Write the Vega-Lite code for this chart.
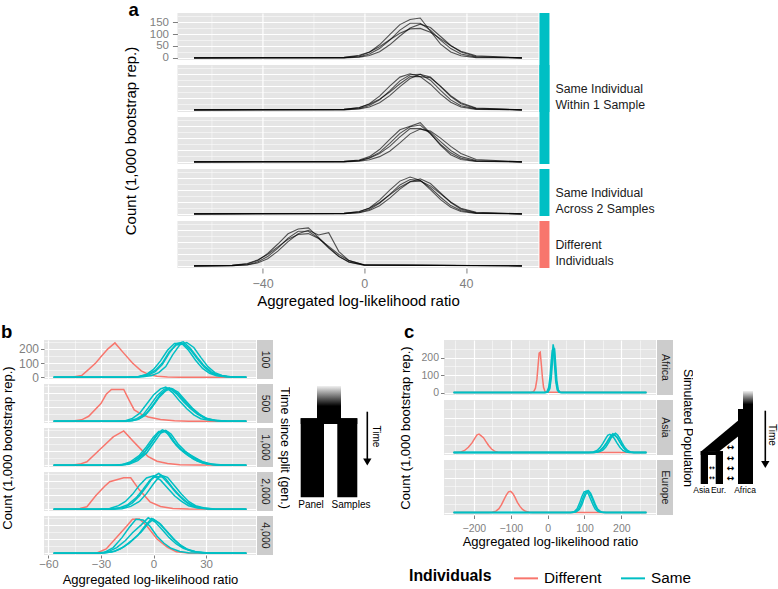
{
"padding": 0,
"background": "white",
"config": {
 "font": "Liberation Sans",
 "view": {"stroke": null, "fill": "#E5E5E5"},
 "axis": {"domain": false, "gridColor": "#FFFFFF", "labelColor": "#7F7F7F", "tickColor": "#7F7F7F", "tickSize": 4, "labelPadding": 2, "titleFontWeight": "normal", "titleColor": "#000000", "labelOverlap": false},
 "title": {"fontWeight": "bold", "fontSize": 18.5, "anchor": "start", "frame": "bounds", "color": "#000000"},
 "legend": {"layout": {"anchor": "middle", "bottom": {"anchor": "middle"}}}
},
"datasets": {
 "a1": [
  {"c":1,"x":-67,"y":0},{"c":1,"x":-8,"y":1},{"c":1,"x":-2,"y":5},{"c":1,"x":2,"y":16},{"c":1,"x":6,"y":39},{"c":1,"x":10,"y":75},{"c":1,"x":14,"y":117},{"c":1,"x":18,"y":146},{"c":1,"x":22,"y":146},{"c":1,"x":26,"y":117},{"c":1,"x":30,"y":75},{"c":1,"x":34,"y":39},{"c":1,"x":38,"y":16},{"c":1,"x":44,"y":3},{"c":1,"x":62,"y":0},
  {"c":2,"x":-67,"y":0},{"c":2,"x":-8,"y":1},{"c":2,"x":-2,"y":8},{"c":2,"x":2,"y":24},{"c":2,"x":6,"y":55},{"c":2,"x":10,"y":98},{"c":2,"x":14,"y":140},{"c":2,"x":18,"y":162},{"c":2,"x":22,"y":168},{"c":2,"x":26,"y":112},{"c":2,"x":30,"y":58},{"c":2,"x":34,"y":25},{"c":2,"x":38,"y":9},{"c":2,"x":44,"y":1},{"c":2,"x":62,"y":0},
  {"c":3,"x":-67,"y":0},{"c":3,"x":-8,"y":0},{"c":3,"x":-2,"y":3},{"c":3,"x":2,"y":10},{"c":3,"x":6,"y":26},{"c":3,"x":10,"y":55},{"c":3,"x":14,"y":92},{"c":3,"x":18,"y":126},{"c":3,"x":22,"y":142},{"c":3,"x":26,"y":128},{"c":3,"x":30,"y":90},{"c":3,"x":34,"y":52},{"c":3,"x":38,"y":25},{"c":3,"x":44,"y":6},{"c":3,"x":62,"y":0},
  {"c":4,"x":-67,"y":0},{"c":4,"x":-8,"y":2},{"c":4,"x":-2,"y":11},{"c":4,"x":2,"y":25},{"c":4,"x":6,"y":47},{"c":4,"x":10,"y":76},{"c":4,"x":14,"y":104},{"c":4,"x":18,"y":122},{"c":4,"x":22,"y":124},{"c":4,"x":26,"y":108},{"c":4,"x":30,"y":80},{"c":4,"x":34,"y":51},{"c":4,"x":38,"y":28},{"c":4,"x":44,"y":9},{"c":4,"x":62,"y":0}
 ],
 "a2": [
  {"c":1,"x":-67,"y":0},{"c":1,"x":-8,"y":1},{"c":1,"x":-2,"y":6},{"c":1,"x":2,"y":18},{"c":1,"x":6,"y":42},{"c":1,"x":10,"y":80},{"c":1,"x":14,"y":122},{"c":1,"x":18,"y":148},{"c":1,"x":22,"y":150},{"c":1,"x":26,"y":125},{"c":1,"x":30,"y":82},{"c":1,"x":34,"y":42},{"c":1,"x":38,"y":17},{"c":1,"x":44,"y":4},{"c":1,"x":62,"y":0},
  {"c":2,"x":-67,"y":0},{"c":2,"x":-8,"y":2},{"c":2,"x":-2,"y":9},{"c":2,"x":2,"y":26},{"c":2,"x":6,"y":58},{"c":2,"x":10,"y":100},{"c":2,"x":14,"y":138},{"c":2,"x":18,"y":152},{"c":2,"x":22,"y":140},{"c":2,"x":26,"y":108},{"c":2,"x":30,"y":66},{"c":2,"x":34,"y":32},{"c":2,"x":38,"y":12},{"c":2,"x":44,"y":2},{"c":2,"x":62,"y":0},
  {"c":3,"x":-67,"y":0},{"c":3,"x":-8,"y":0},{"c":3,"x":-2,"y":4},{"c":3,"x":2,"y":12},{"c":3,"x":6,"y":30},{"c":3,"x":10,"y":60},{"c":3,"x":14,"y":98},{"c":3,"x":18,"y":132},{"c":3,"x":22,"y":150},{"c":3,"x":26,"y":138},{"c":3,"x":30,"y":98},{"c":3,"x":34,"y":56},{"c":3,"x":38,"y":26},{"c":3,"x":44,"y":6},{"c":3,"x":62,"y":0},
  {"c":4,"x":-67,"y":0},{"c":4,"x":-8,"y":2},{"c":4,"x":-2,"y":10},{"c":4,"x":2,"y":24},{"c":4,"x":6,"y":45},{"c":4,"x":10,"y":75},{"c":4,"x":14,"y":110},{"c":4,"x":18,"y":140},{"c":4,"x":22,"y":140},{"c":4,"x":26,"y":135},{"c":4,"x":30,"y":100},{"c":4,"x":34,"y":60},{"c":4,"x":38,"y":30},{"c":4,"x":44,"y":8},{"c":4,"x":62,"y":0}
 ],
 "a3": [
  {"c":1,"x":-67,"y":0},{"c":1,"x":-8,"y":1},{"c":1,"x":-2,"y":5},{"c":1,"x":2,"y":17},{"c":1,"x":6,"y":40},{"c":1,"x":10,"y":78},{"c":1,"x":14,"y":120},{"c":1,"x":18,"y":148},{"c":1,"x":22,"y":155},{"c":1,"x":26,"y":118},{"c":1,"x":30,"y":74},{"c":1,"x":34,"y":38},{"c":1,"x":38,"y":15},{"c":1,"x":44,"y":3},{"c":1,"x":62,"y":0},
  {"c":2,"x":-67,"y":0},{"c":2,"x":-8,"y":2},{"c":2,"x":-2,"y":8},{"c":2,"x":2,"y":22},{"c":2,"x":6,"y":52},{"c":2,"x":10,"y":95},{"c":2,"x":14,"y":135},{"c":2,"x":18,"y":150},{"c":2,"x":22,"y":165},{"c":2,"x":26,"y":120},{"c":2,"x":30,"y":70},{"c":2,"x":34,"y":30},{"c":2,"x":38,"y":10},{"c":2,"x":44,"y":2},{"c":2,"x":62,"y":0},
  {"c":3,"x":-67,"y":0},{"c":3,"x":-8,"y":1},{"c":3,"x":-2,"y":6},{"c":3,"x":2,"y":15},{"c":3,"x":6,"y":35},{"c":3,"x":10,"y":65},{"c":3,"x":14,"y":105},{"c":3,"x":18,"y":140},{"c":3,"x":22,"y":140},{"c":3,"x":26,"y":125},{"c":3,"x":30,"y":85},{"c":3,"x":34,"y":48},{"c":3,"x":38,"y":22},{"c":3,"x":44,"y":6},{"c":3,"x":62,"y":0},
  {"c":4,"x":-67,"y":0},{"c":4,"x":-8,"y":0},{"c":4,"x":-2,"y":3},{"c":4,"x":2,"y":9},{"c":4,"x":6,"y":22},{"c":4,"x":10,"y":45},{"c":4,"x":14,"y":80},{"c":4,"x":18,"y":118},{"c":4,"x":22,"y":138},{"c":4,"x":26,"y":130},{"c":4,"x":30,"y":100},{"c":4,"x":34,"y":65},{"c":4,"x":38,"y":35},{"c":4,"x":44,"y":10},{"c":4,"x":62,"y":0}
 ],
 "a4": [
  {"c":1,"x":-67,"y":0},{"c":1,"x":-8,"y":1},{"c":1,"x":-2,"y":6},{"c":1,"x":2,"y":18},{"c":1,"x":6,"y":45},{"c":1,"x":10,"y":82},{"c":1,"x":14,"y":122},{"c":1,"x":18,"y":145},{"c":1,"x":22,"y":140},{"c":1,"x":26,"y":110},{"c":1,"x":30,"y":70},{"c":1,"x":34,"y":35},{"c":1,"x":38,"y":14},{"c":1,"x":44,"y":3},{"c":1,"x":62,"y":0},
  {"c":2,"x":-67,"y":0},{"c":2,"x":-8,"y":2},{"c":2,"x":-2,"y":9},{"c":2,"x":2,"y":25},{"c":2,"x":6,"y":58},{"c":2,"x":10,"y":100},{"c":2,"x":14,"y":138},{"c":2,"x":18,"y":155},{"c":2,"x":22,"y":142},{"c":2,"x":26,"y":102},{"c":2,"x":30,"y":60},{"c":2,"x":34,"y":28},{"c":2,"x":38,"y":10},{"c":2,"x":44,"y":2},{"c":2,"x":62,"y":0},
  {"c":3,"x":-67,"y":0},{"c":3,"x":-8,"y":1},{"c":3,"x":-2,"y":5},{"c":3,"x":2,"y":14},{"c":3,"x":6,"y":34},{"c":3,"x":10,"y":66},{"c":3,"x":14,"y":104},{"c":3,"x":18,"y":135},{"c":3,"x":22,"y":148},{"c":3,"x":26,"y":128},{"c":3,"x":30,"y":88},{"c":3,"x":34,"y":48},{"c":3,"x":38,"y":20},{"c":3,"x":44,"y":5},{"c":3,"x":62,"y":0},
  {"c":4,"x":-67,"y":0},{"c":4,"x":-8,"y":2},{"c":4,"x":-2,"y":10},{"c":4,"x":2,"y":24},{"c":4,"x":6,"y":48},{"c":4,"x":10,"y":80},{"c":4,"x":14,"y":112},{"c":4,"x":18,"y":135},{"c":4,"x":22,"y":138},{"c":4,"x":26,"y":118},{"c":4,"x":30,"y":84},{"c":4,"x":34,"y":50},{"c":4,"x":38,"y":24},{"c":4,"x":44,"y":7},{"c":4,"x":62,"y":0}
 ],
 "a5": [
  {"c":1,"x":-67,"y":0},{"c":1,"x":-52,"y":1},{"c":1,"x":-46,"y":5},{"c":1,"x":-42,"y":16},{"c":1,"x":-38,"y":39},{"c":1,"x":-34,"y":75},{"c":1,"x":-30,"y":117},{"c":1,"x":-26,"y":146},{"c":1,"x":-22,"y":146},{"c":1,"x":-18,"y":117},{"c":1,"x":-14,"y":75},{"c":1,"x":-10,"y":39},{"c":1,"x":-6,"y":16},{"c":1,"x":0,"y":3},{"c":1,"x":62,"y":0},
  {"c":2,"x":-67,"y":0},{"c":2,"x":-52,"y":2},{"c":2,"x":-46,"y":8},{"c":2,"x":-42,"y":22},{"c":2,"x":-38,"y":52},{"c":2,"x":-34,"y":92},{"c":2,"x":-30,"y":135},{"c":2,"x":-26,"y":155},{"c":2,"x":-22,"y":160},{"c":2,"x":-18,"y":120},{"c":2,"x":-14,"y":78},{"c":2,"x":-10,"y":40},{"c":2,"x":-6,"y":15},{"c":2,"x":0,"y":3},{"c":2,"x":62,"y":0},
  {"c":3,"x":-67,"y":0},{"c":3,"x":-52,"y":1},{"c":3,"x":-46,"y":4},{"c":3,"x":-42,"y":12},{"c":3,"x":-38,"y":30},{"c":3,"x":-34,"y":62},{"c":3,"x":-30,"y":102},{"c":3,"x":-26,"y":135},{"c":3,"x":-22,"y":150},{"c":3,"x":-18,"y":130},{"c":3,"x":-14,"y":140},{"c":3,"x":-10,"y":60},{"c":3,"x":-6,"y":22},{"c":3,"x":0,"y":4},{"c":3,"x":62,"y":0},
  {"c":4,"x":-67,"y":0},{"c":4,"x":-52,"y":2},{"c":4,"x":-46,"y":10},{"c":4,"x":-42,"y":25},{"c":4,"x":-38,"y":48},{"c":4,"x":-34,"y":80},{"c":4,"x":-30,"y":112},{"c":4,"x":-26,"y":132},{"c":4,"x":-22,"y":136},{"c":4,"x":-18,"y":115},{"c":4,"x":-14,"y":82},{"c":4,"x":-10,"y":48},{"c":4,"x":-6,"y":22},{"c":4,"x":0,"y":5},{"c":4,"x":62,"y":0}
 ],
 "b1": [
  {"g":"Different","c":0,"x":-57,"y":0},{"g":"Different","c":0,"x":-46,"y":2},{"g":"Different","c":0,"x":-41,"y":12},{"g":"Different","c":0,"x":-37,"y":55},{"g":"Different","c":0,"x":-33,"y":100},{"g":"Different","c":0,"x":-30,"y":145},{"g":"Different","c":0,"x":-26,"y":200},{"g":"Different","c":0,"x":-22,"y":242},{"g":"Different","c":0,"x":-17,"y":170},{"g":"Different","c":0,"x":-12,"y":100},{"g":"Different","c":0,"x":-7,"y":45},{"g":"Different","c":0,"x":-3,"y":20},{"g":"Different","c":0,"x":2,"y":7},{"g":"Different","c":0,"x":8,"y":2},{"g":"Different","c":0,"x":15,"y":0},{"g":"Different","c":0,"x":53,"y":0},
  {"g":"Same","c":1,"x":-57,"y":0},{"g":"Same","c":1,"x":-15,"y":0},{"g":"Same","c":1,"x":-8,"y":3},{"g":"Same","c":1,"x":-3,"y":15},{"g":"Same","c":1,"x":1,"y":40},{"g":"Same","c":1,"x":5,"y":90},{"g":"Same","c":1,"x":9,"y":170},{"g":"Same","c":1,"x":13,"y":235},{"g":"Same","c":1,"x":17,"y":250},{"g":"Same","c":1,"x":21,"y":205},{"g":"Same","c":1,"x":25,"y":140},{"g":"Same","c":1,"x":29,"y":80},{"g":"Same","c":1,"x":33,"y":38},{"g":"Same","c":1,"x":37,"y":15},{"g":"Same","c":1,"x":42,"y":5},{"g":"Same","c":1,"x":47,"y":1},{"g":"Same","c":1,"x":53,"y":0},
  {"g":"Same","c":2,"x":-57,"y":0},{"g":"Same","c":2,"x":-12,"y":0},{"g":"Same","c":2,"x":-6,"y":3},{"g":"Same","c":2,"x":-1,"y":12},{"g":"Same","c":2,"x":3,"y":32},{"g":"Same","c":2,"x":7,"y":75},{"g":"Same","c":2,"x":11,"y":160},{"g":"Same","c":2,"x":15,"y":228},{"g":"Same","c":2,"x":19,"y":245},{"g":"Same","c":2,"x":23,"y":210},{"g":"Same","c":2,"x":27,"y":140},{"g":"Same","c":2,"x":31,"y":75},{"g":"Same","c":2,"x":35,"y":32},{"g":"Same","c":2,"x":39,"y":12},{"g":"Same","c":2,"x":44,"y":3},{"g":"Same","c":2,"x":53,"y":0},
  {"g":"Same","c":3,"x":-57,"y":0},{"g":"Same","c":3,"x":-15,"y":0},{"g":"Same","c":3,"x":-9,"y":4},{"g":"Same","c":3,"x":-4,"y":20},{"g":"Same","c":3,"x":0,"y":55},{"g":"Same","c":3,"x":4,"y":115},{"g":"Same","c":3,"x":8,"y":190},{"g":"Same","c":3,"x":12,"y":238},{"g":"Same","c":3,"x":16,"y":240},{"g":"Same","c":3,"x":20,"y":190},{"g":"Same","c":3,"x":24,"y":120},{"g":"Same","c":3,"x":28,"y":62},{"g":"Same","c":3,"x":32,"y":28},{"g":"Same","c":3,"x":36,"y":10},{"g":"Same","c":3,"x":41,"y":3},{"g":"Same","c":3,"x":53,"y":0},
  {"g":"Same","c":4,"x":-57,"y":0},{"g":"Same","c":4,"x":-14,"y":1},{"g":"Same","c":4,"x":-8,"y":5},{"g":"Same","c":4,"x":-3,"y":22},{"g":"Same","c":4,"x":1,"y":48},{"g":"Same","c":4,"x":5,"y":100},{"g":"Same","c":4,"x":9,"y":180},{"g":"Same","c":4,"x":13,"y":228},{"g":"Same","c":4,"x":17,"y":235},{"g":"Same","c":4,"x":21,"y":195},{"g":"Same","c":4,"x":25,"y":130},{"g":"Same","c":4,"x":29,"y":70},{"g":"Same","c":4,"x":33,"y":30},{"g":"Same","c":4,"x":37,"y":12},{"g":"Same","c":4,"x":42,"y":3},{"g":"Same","c":4,"x":53,"y":0}
 ],
 "b2": [
  {"g":"Different","c":0,"x":-57,"y":0},{"g":"Different","c":0,"x":-46,"y":2},{"g":"Different","c":0,"x":-41,"y":10},{"g":"Different","c":0,"x":-37,"y":35},{"g":"Different","c":0,"x":-30,"y":125},{"g":"Different","c":0,"x":-27,"y":190},{"g":"Different","c":0,"x":-24,"y":224},{"g":"Different","c":0,"x":-17,"y":224},{"g":"Different","c":0,"x":-14,"y":150},{"g":"Different","c":0,"x":-11,"y":80},{"g":"Different","c":0,"x":-7,"y":50},{"g":"Different","c":0,"x":-3,"y":30},{"g":"Different","c":0,"x":4,"y":12},{"g":"Different","c":0,"x":12,"y":3},{"g":"Different","c":0,"x":20,"y":0},{"g":"Different","c":0,"x":53,"y":0},
  {"g":"Same","c":1,"x":-57,"y":0},{"g":"Same","c":1,"x":-20,"y":0},{"g":"Same","c":1,"x":-14,"y":3},{"g":"Same","c":1,"x":-10,"y":15},{"g":"Same","c":1,"x":-6,"y":45},{"g":"Same","c":1,"x":-2,"y":110},{"g":"Same","c":1,"x":2,"y":180},{"g":"Same","c":1,"x":6,"y":225},{"g":"Same","c":1,"x":9,"y":235},{"g":"Same","c":1,"x":13,"y":195},{"g":"Same","c":1,"x":17,"y":140},{"g":"Same","c":1,"x":21,"y":90},{"g":"Same","c":1,"x":25,"y":50},{"g":"Same","c":1,"x":29,"y":22},{"g":"Same","c":1,"x":34,"y":7},{"g":"Same","c":1,"x":40,"y":2},{"g":"Same","c":1,"x":53,"y":0},
  {"g":"Same","c":2,"x":-57,"y":0},{"g":"Same","c":2,"x":-18,"y":0},{"g":"Same","c":2,"x":-12,"y":4},{"g":"Same","c":2,"x":-8,"y":18},{"g":"Same","c":2,"x":-4,"y":55},{"g":"Same","c":2,"x":0,"y":120},{"g":"Same","c":2,"x":4,"y":190},{"g":"Same","c":2,"x":8,"y":232},{"g":"Same","c":2,"x":11,"y":228},{"g":"Same","c":2,"x":15,"y":180},{"g":"Same","c":2,"x":19,"y":125},{"g":"Same","c":2,"x":23,"y":78},{"g":"Same","c":2,"x":27,"y":40},{"g":"Same","c":2,"x":31,"y":16},{"g":"Same","c":2,"x":36,"y":5},{"g":"Same","c":2,"x":42,"y":1},{"g":"Same","c":2,"x":53,"y":0},
  {"g":"Same","c":3,"x":-57,"y":0},{"g":"Same","c":3,"x":-22,"y":0},{"g":"Same","c":3,"x":-16,"y":4},{"g":"Same","c":3,"x":-12,"y":20},{"g":"Same","c":3,"x":-8,"y":55},{"g":"Same","c":3,"x":-4,"y":120},{"g":"Same","c":3,"x":0,"y":185},{"g":"Same","c":3,"x":4,"y":228},{"g":"Same","c":3,"x":7,"y":240},{"g":"Same","c":3,"x":11,"y":200},{"g":"Same","c":3,"x":15,"y":140},{"g":"Same","c":3,"x":19,"y":88},{"g":"Same","c":3,"x":23,"y":45},{"g":"Same","c":3,"x":27,"y":18},{"g":"Same","c":3,"x":32,"y":6},{"g":"Same","c":3,"x":38,"y":1},{"g":"Same","c":3,"x":53,"y":0},
  {"g":"Same","c":4,"x":-57,"y":0},{"g":"Same","c":4,"x":-19,"y":0},{"g":"Same","c":4,"x":-13,"y":3},{"g":"Same","c":4,"x":-9,"y":12},{"g":"Same","c":4,"x":-5,"y":40},{"g":"Same","c":4,"x":-1,"y":95},{"g":"Same","c":4,"x":3,"y":165},{"g":"Same","c":4,"x":7,"y":215},{"g":"Same","c":4,"x":10,"y":232},{"g":"Same","c":4,"x":14,"y":205},{"g":"Same","c":4,"x":18,"y":150},{"g":"Same","c":4,"x":22,"y":95},{"g":"Same","c":4,"x":26,"y":52},{"g":"Same","c":4,"x":30,"y":22},{"g":"Same","c":4,"x":35,"y":7},{"g":"Same","c":4,"x":41,"y":1},{"g":"Same","c":4,"x":53,"y":0}
 ],
 "b3": [
  {"g":"Different","c":0,"x":-57,"y":0},{"g":"Different","c":0,"x":-46,"y":2},{"g":"Different","c":0,"x":-42,"y":8},{"g":"Different","c":0,"x":-38,"y":24},{"g":"Different","c":0,"x":-30,"y":118},{"g":"Different","c":0,"x":-23,"y":200},{"g":"Different","c":0,"x":-17,"y":242},{"g":"Different","c":0,"x":-12,"y":175},{"g":"Different","c":0,"x":-7,"y":110},{"g":"Different","c":0,"x":-3,"y":60},{"g":"Different","c":0,"x":2,"y":28},{"g":"Different","c":0,"x":8,"y":12},{"g":"Different","c":0,"x":15,"y":4},{"g":"Different","c":0,"x":25,"y":1},{"g":"Different","c":0,"x":53,"y":0},
  {"g":"Same","c":1,"x":-57,"y":0},{"g":"Same","c":1,"x":-22,"y":0},{"g":"Same","c":1,"x":-16,"y":5},{"g":"Same","c":1,"x":-11,"y":30},{"g":"Same","c":1,"x":-6,"y":75},{"g":"Same","c":1,"x":-2,"y":140},{"g":"Same","c":1,"x":2,"y":215},{"g":"Same","c":1,"x":5,"y":250},{"g":"Same","c":1,"x":8,"y":235},{"g":"Same","c":1,"x":12,"y":160},{"g":"Same","c":1,"x":16,"y":110},{"g":"Same","c":1,"x":20,"y":80},{"g":"Same","c":1,"x":24,"y":52},{"g":"Same","c":1,"x":28,"y":25},{"g":"Same","c":1,"x":33,"y":8},{"g":"Same","c":1,"x":40,"y":1},{"g":"Same","c":1,"x":53,"y":0},
  {"g":"Same","c":2,"x":-57,"y":0},{"g":"Same","c":2,"x":-20,"y":0},{"g":"Same","c":2,"x":-14,"y":6},{"g":"Same","c":2,"x":-9,"y":32},{"g":"Same","c":2,"x":-4,"y":85},{"g":"Same","c":2,"x":0,"y":155},{"g":"Same","c":2,"x":4,"y":225},{"g":"Same","c":2,"x":7,"y":245},{"g":"Same","c":2,"x":10,"y":220},{"g":"Same","c":2,"x":14,"y":150},{"g":"Same","c":2,"x":18,"y":100},{"g":"Same","c":2,"x":22,"y":62},{"g":"Same","c":2,"x":26,"y":32},{"g":"Same","c":2,"x":31,"y":10},{"g":"Same","c":2,"x":37,"y":2},{"g":"Same","c":2,"x":53,"y":0},
  {"g":"Same","c":3,"x":-57,"y":0},{"g":"Same","c":3,"x":-24,"y":0},{"g":"Same","c":3,"x":-18,"y":4},{"g":"Same","c":3,"x":-13,"y":25},{"g":"Same","c":3,"x":-8,"y":70},{"g":"Same","c":3,"x":-4,"y":130},{"g":"Same","c":3,"x":0,"y":200},{"g":"Same","c":3,"x":3,"y":238},{"g":"Same","c":3,"x":7,"y":240},{"g":"Same","c":3,"x":11,"y":170},{"g":"Same","c":3,"x":15,"y":115},{"g":"Same","c":3,"x":19,"y":75},{"g":"Same","c":3,"x":23,"y":42},{"g":"Same","c":3,"x":28,"y":15},{"g":"Same","c":3,"x":34,"y":3},{"g":"Same","c":3,"x":53,"y":0},
  {"g":"Same","c":4,"x":-57,"y":0},{"g":"Same","c":4,"x":-21,"y":1},{"g":"Same","c":4,"x":-15,"y":8},{"g":"Same","c":4,"x":-10,"y":38},{"g":"Same","c":4,"x":-5,"y":95},{"g":"Same","c":4,"x":-1,"y":165},{"g":"Same","c":4,"x":3,"y":230},{"g":"Same","c":4,"x":6,"y":240},{"g":"Same","c":4,"x":9,"y":215},{"g":"Same","c":4,"x":13,"y":140},{"g":"Same","c":4,"x":17,"y":95},{"g":"Same","c":4,"x":21,"y":60},{"g":"Same","c":4,"x":25,"y":30},{"g":"Same","c":4,"x":30,"y":10},{"g":"Same","c":4,"x":36,"y":2},{"g":"Same","c":4,"x":53,"y":0}
 ],
 "b4": [
  {"g":"Different","c":0,"x":-57,"y":0},{"g":"Different","c":0,"x":-47,"y":2},{"g":"Different","c":0,"x":-42,"y":6},{"g":"Different","c":0,"x":-38,"y":17},{"g":"Different","c":0,"x":-33,"y":95},{"g":"Different","c":0,"x":-28,"y":160},{"g":"Different","c":0,"x":-25,"y":194},{"g":"Different","c":0,"x":-17,"y":222},{"g":"Different","c":0,"x":-13,"y":222},{"g":"Different","c":0,"x":-8,"y":135},{"g":"Different","c":0,"x":-2,"y":52},{"g":"Different","c":0,"x":4,"y":19},{"g":"Different","c":0,"x":11,"y":5},{"g":"Different","c":0,"x":20,"y":1},{"g":"Different","c":0,"x":53,"y":0},
  {"g":"Same","c":1,"x":-57,"y":0},{"g":"Same","c":1,"x":-28,"y":0},{"g":"Same","c":1,"x":-22,"y":3},{"g":"Same","c":1,"x":-16,"y":15},{"g":"Same","c":1,"x":-12,"y":45},{"g":"Same","c":1,"x":-8,"y":95},{"g":"Same","c":1,"x":-4,"y":160},{"g":"Same","c":1,"x":0,"y":230},{"g":"Same","c":1,"x":3,"y":252},{"g":"Same","c":1,"x":7,"y":215},{"g":"Same","c":1,"x":11,"y":150},{"g":"Same","c":1,"x":15,"y":95},{"g":"Same","c":1,"x":19,"y":50},{"g":"Same","c":1,"x":23,"y":22},{"g":"Same","c":1,"x":28,"y":8},{"g":"Same","c":1,"x":34,"y":2},{"g":"Same","c":1,"x":53,"y":0},
  {"g":"Same","c":2,"x":-57,"y":0},{"g":"Same","c":2,"x":-30,"y":1},{"g":"Same","c":2,"x":-25,"y":5},{"g":"Same","c":2,"x":-20,"y":25},{"g":"Same","c":2,"x":-16,"y":55},{"g":"Same","c":2,"x":-12,"y":105},{"g":"Same","c":2,"x":-8,"y":170},{"g":"Same","c":2,"x":-4,"y":220},{"g":"Same","c":2,"x":0,"y":235},{"g":"Same","c":2,"x":4,"y":205},{"g":"Same","c":2,"x":8,"y":150},{"g":"Same","c":2,"x":12,"y":95},{"g":"Same","c":2,"x":16,"y":55},{"g":"Same","c":2,"x":20,"y":25},{"g":"Same","c":2,"x":25,"y":8},{"g":"Same","c":2,"x":32,"y":2},{"g":"Same","c":2,"x":53,"y":0},
  {"g":"Same","c":3,"x":-57,"y":0},{"g":"Same","c":3,"x":-24,"y":0},{"g":"Same","c":3,"x":-18,"y":4},{"g":"Same","c":3,"x":-13,"y":20},{"g":"Same","c":3,"x":-8,"y":55},{"g":"Same","c":3,"x":-4,"y":110},{"g":"Same","c":3,"x":0,"y":180},{"g":"Same","c":3,"x":4,"y":240},{"g":"Same","c":3,"x":8,"y":225},{"g":"Same","c":3,"x":12,"y":165},{"g":"Same","c":3,"x":16,"y":105},{"g":"Same","c":3,"x":20,"y":55},{"g":"Same","c":3,"x":24,"y":25},{"g":"Same","c":3,"x":29,"y":8},{"g":"Same","c":3,"x":35,"y":2},{"g":"Same","c":3,"x":53,"y":0},
  {"g":"Same","c":4,"x":-57,"y":0},{"g":"Same","c":4,"x":-26,"y":1},{"g":"Same","c":4,"x":-20,"y":8},{"g":"Same","c":4,"x":-15,"y":30},{"g":"Same","c":4,"x":-10,"y":80},{"g":"Same","c":4,"x":-6,"y":140},{"g":"Same","c":4,"x":-2,"y":205},{"g":"Same","c":4,"x":1,"y":230},{"g":"Same","c":4,"x":5,"y":228},{"g":"Same","c":4,"x":9,"y":175},{"g":"Same","c":4,"x":13,"y":115},{"g":"Same","c":4,"x":17,"y":65},{"g":"Same","c":4,"x":21,"y":30},{"g":"Same","c":4,"x":26,"y":10},{"g":"Same","c":4,"x":32,"y":2},{"g":"Same","c":4,"x":53,"y":0}
 ],
 "b5": [
  {"g":"Different","c":0,"x":-57,"y":0},{"g":"Different","c":0,"x":-40,"y":0},{"g":"Different","c":0,"x":-32,"y":4},{"g":"Different","c":0,"x":-27,"y":30},{"g":"Different","c":0,"x":-21,"y":113},{"g":"Different","c":0,"x":-15,"y":195},{"g":"Different","c":0,"x":-12,"y":240},{"g":"Different","c":0,"x":-8,"y":242},{"g":"Different","c":0,"x":-4,"y":195},{"g":"Different","c":0,"x":2,"y":100},{"g":"Different","c":0,"x":8,"y":42},{"g":"Different","c":0,"x":13,"y":10},{"g":"Different","c":0,"x":20,"y":2},{"g":"Different","c":0,"x":53,"y":0},
  {"g":"Same","c":1,"x":-57,"y":0},{"g":"Same","c":1,"x":-34,"y":0},{"g":"Same","c":1,"x":-28,"y":6},{"g":"Same","c":1,"x":-23,"y":40},{"g":"Same","c":1,"x":-18,"y":110},{"g":"Same","c":1,"x":-14,"y":180},{"g":"Same","c":1,"x":-10,"y":240},{"g":"Same","c":1,"x":-6,"y":235},{"g":"Same","c":1,"x":-2,"y":190},{"g":"Same","c":1,"x":2,"y":120},{"g":"Same","c":1,"x":6,"y":70},{"g":"Same","c":1,"x":10,"y":35},{"g":"Same","c":1,"x":15,"y":12},{"g":"Same","c":1,"x":20,"y":3},{"g":"Same","c":1,"x":53,"y":0},
  {"g":"Same","c":2,"x":-57,"y":0},{"g":"Same","c":2,"x":-32,"y":1},{"g":"Same","c":2,"x":-26,"y":10},{"g":"Same","c":2,"x":-21,"y":40},{"g":"Same","c":2,"x":-16,"y":90},{"g":"Same","c":2,"x":-12,"y":145},{"g":"Same","c":2,"x":-7,"y":200},{"g":"Same","c":2,"x":-3,"y":250},{"g":"Same","c":2,"x":1,"y":220},{"g":"Same","c":2,"x":5,"y":165},{"g":"Same","c":2,"x":9,"y":110},{"g":"Same","c":2,"x":13,"y":65},{"g":"Same","c":2,"x":17,"y":35},{"g":"Same","c":2,"x":22,"y":14},{"g":"Same","c":2,"x":28,"y":4},{"g":"Same","c":2,"x":35,"y":1},{"g":"Same","c":2,"x":53,"y":0},
  {"g":"Same","c":3,"x":-57,"y":0},{"g":"Same","c":3,"x":-30,"y":1},{"g":"Same","c":3,"x":-24,"y":8},{"g":"Same","c":3,"x":-19,"y":30},{"g":"Same","c":3,"x":-14,"y":70},{"g":"Same","c":3,"x":-9,"y":125},{"g":"Same","c":3,"x":-5,"y":190},{"g":"Same","c":3,"x":-1,"y":245},{"g":"Same","c":3,"x":3,"y":215},{"g":"Same","c":3,"x":7,"y":160},{"g":"Same","c":3,"x":11,"y":105},{"g":"Same","c":3,"x":15,"y":60},{"g":"Same","c":3,"x":19,"y":30},{"g":"Same","c":3,"x":24,"y":10},{"g":"Same","c":3,"x":30,"y":3},{"g":"Same","c":3,"x":53,"y":0},
  {"g":"Same","c":4,"x":-57,"y":0},{"g":"Same","c":4,"x":-28,"y":2},{"g":"Same","c":4,"x":-22,"y":14},{"g":"Same","c":4,"x":-17,"y":45},{"g":"Same","c":4,"x":-12,"y":95},{"g":"Same","c":4,"x":-7,"y":150},{"g":"Same","c":4,"x":-3,"y":210},{"g":"Same","c":4,"x":0,"y":240},{"g":"Same","c":4,"x":4,"y":205},{"g":"Same","c":4,"x":8,"y":150},{"g":"Same","c":4,"x":12,"y":95},{"g":"Same","c":4,"x":16,"y":50},{"g":"Same","c":4,"x":20,"y":22},{"g":"Same","c":4,"x":25,"y":7},{"g":"Same","c":4,"x":31,"y":2},{"g":"Same","c":4,"x":53,"y":0}
 ],
 "africa": [
  {"g":"Different","c":0,"x":-255,"y":0},{"g":"Different","c":0,"x":-45,"y":0},{"g":"Different","c":0,"x":-38,"y":4},{"g":"Different","c":0,"x":-33,"y":25},{"g":"Different","c":0,"x":-29,"y":75},{"g":"Different","c":0,"x":-26,"y":150},{"g":"Different","c":0,"x":-23,"y":225},{"g":"Different","c":0,"x":-20,"y":230},{"g":"Different","c":0,"x":-17,"y":160},{"g":"Different","c":0,"x":-14,"y":85},{"g":"Different","c":0,"x":-11,"y":30},{"g":"Different","c":0,"x":-7,"y":6},{"g":"Different","c":0,"x":-2,"y":1},{"g":"Different","c":0,"x":268,"y":0},
  {"g":"Same","c":1,"x":-255,"y":0},{"g":"Same","c":1,"x":-6,"y":0},{"g":"Same","c":1,"x":0,"y":3},{"g":"Same","c":1,"x":5,"y":25},{"g":"Same","c":1,"x":9,"y":90},{"g":"Same","c":1,"x":12,"y":190},{"g":"Same","c":1,"x":15,"y":275},{"g":"Same","c":1,"x":18,"y":240},{"g":"Same","c":1,"x":21,"y":140},{"g":"Same","c":1,"x":24,"y":55},{"g":"Same","c":1,"x":28,"y":12},{"g":"Same","c":1,"x":33,"y":2},{"g":"Same","c":1,"x":38,"y":0},{"g":"Same","c":1,"x":268,"y":0},
  {"g":"Same","c":2,"x":-255,"y":0},{"g":"Same","c":2,"x":-8,"y":0},{"g":"Same","c":2,"x":-2,"y":4},{"g":"Same","c":2,"x":3,"y":30},{"g":"Same","c":2,"x":7,"y":100},{"g":"Same","c":2,"x":10,"y":185},{"g":"Same","c":2,"x":13,"y":245},{"g":"Same","c":2,"x":16,"y":230},{"g":"Same","c":2,"x":19,"y":150},{"g":"Same","c":2,"x":22,"y":65},{"g":"Same","c":2,"x":26,"y":15},{"g":"Same","c":2,"x":31,"y":2},{"g":"Same","c":2,"x":36,"y":0},{"g":"Same","c":2,"x":268,"y":0},
  {"g":"Same","c":3,"x":-255,"y":0},{"g":"Same","c":3,"x":-5,"y":0},{"g":"Same","c":3,"x":1,"y":3},{"g":"Same","c":3,"x":6,"y":22},{"g":"Same","c":3,"x":10,"y":85},{"g":"Same","c":3,"x":13,"y":175},{"g":"Same","c":3,"x":16,"y":255},{"g":"Same","c":3,"x":19,"y":250},{"g":"Same","c":3,"x":22,"y":160},{"g":"Same","c":3,"x":25,"y":70},{"g":"Same","c":3,"x":29,"y":15},{"g":"Same","c":3,"x":34,"y":2},{"g":"Same","c":3,"x":39,"y":0},{"g":"Same","c":3,"x":268,"y":0}
 ],
 "asia": [
  {"g":"Different","c":0,"x":-255,"y":0},{"g":"Different","c":0,"x":-245,"y":0},{"g":"Different","c":0,"x":-235,"y":3},{"g":"Different","c":0,"x":-225,"y":12},{"g":"Different","c":0,"x":-215,"y":30},{"g":"Different","c":0,"x":-205,"y":55},{"g":"Different","c":0,"x":-198,"y":80},{"g":"Different","c":0,"x":-192,"y":100},{"g":"Different","c":0,"x":-186,"y":105},{"g":"Different","c":0,"x":-180,"y":95},{"g":"Different","c":0,"x":-174,"y":85},{"g":"Different","c":0,"x":-168,"y":65},{"g":"Different","c":0,"x":-160,"y":40},{"g":"Different","c":0,"x":-152,"y":20},{"g":"Different","c":0,"x":-144,"y":8},{"g":"Different","c":0,"x":-135,"y":2},{"g":"Different","c":0,"x":-125,"y":0},{"g":"Different","c":0,"x":268,"y":0},
  {"g":"Same","c":1,"x":-255,"y":0},{"g":"Same","c":1,"x":120,"y":0},{"g":"Same","c":1,"x":132,"y":3},{"g":"Same","c":1,"x":142,"y":12},{"g":"Same","c":1,"x":150,"y":28},{"g":"Same","c":1,"x":158,"y":50},{"g":"Same","c":1,"x":165,"y":75},{"g":"Same","c":1,"x":171,"y":95},{"g":"Same","c":1,"x":177,"y":108},{"g":"Same","c":1,"x":183,"y":100},{"g":"Same","c":1,"x":189,"y":85},{"g":"Same","c":1,"x":195,"y":62},{"g":"Same","c":1,"x":202,"y":38},{"g":"Same","c":1,"x":210,"y":18},{"g":"Same","c":1,"x":218,"y":6},{"g":"Same","c":1,"x":226,"y":1},{"g":"Same","c":1,"x":235,"y":0},{"g":"Same","c":1,"x":268,"y":0},
  {"g":"Same","c":2,"x":-255,"y":0},{"g":"Same","c":2,"x":112,"y":0},{"g":"Same","c":2,"x":124,"y":3},{"g":"Same","c":2,"x":134,"y":12},{"g":"Same","c":2,"x":142,"y":28},{"g":"Same","c":2,"x":150,"y":52},{"g":"Same","c":2,"x":157,"y":78},{"g":"Same","c":2,"x":163,"y":98},{"g":"Same","c":2,"x":169,"y":104},{"g":"Same","c":2,"x":175,"y":95},{"g":"Same","c":2,"x":181,"y":80},{"g":"Same","c":2,"x":188,"y":55},{"g":"Same","c":2,"x":196,"y":30},{"g":"Same","c":2,"x":204,"y":12},{"g":"Same","c":2,"x":213,"y":3},{"g":"Same","c":2,"x":222,"y":0},{"g":"Same","c":2,"x":268,"y":0},
  {"g":"Same","c":3,"x":-255,"y":0},{"g":"Same","c":3,"x":128,"y":0},{"g":"Same","c":3,"x":140,"y":4},{"g":"Same","c":3,"x":150,"y":14},{"g":"Same","c":3,"x":158,"y":32},{"g":"Same","c":3,"x":166,"y":58},{"g":"Same","c":3,"x":172,"y":82},{"g":"Same","c":3,"x":178,"y":100},{"g":"Same","c":3,"x":184,"y":110},{"g":"Same","c":3,"x":190,"y":100},{"g":"Same","c":3,"x":196,"y":80},{"g":"Same","c":3,"x":202,"y":55},{"g":"Same","c":3,"x":209,"y":30},{"g":"Same","c":3,"x":217,"y":12},{"g":"Same","c":3,"x":225,"y":3},{"g":"Same","c":3,"x":234,"y":0},{"g":"Same","c":3,"x":268,"y":0},
  {"g":"Same","c":4,"x":-255,"y":0},{"g":"Same","c":4,"x":125,"y":0},{"g":"Same","c":4,"x":137,"y":5},{"g":"Same","c":4,"x":147,"y":18},{"g":"Same","c":4,"x":155,"y":38},{"g":"Same","c":4,"x":163,"y":62},{"g":"Same","c":4,"x":170,"y":84},{"g":"Same","c":4,"x":176,"y":96},{"g":"Same","c":4,"x":182,"y":98},{"g":"Same","c":4,"x":188,"y":88},{"g":"Same","c":4,"x":194,"y":70},{"g":"Same","c":4,"x":200,"y":48},{"g":"Same","c":4,"x":207,"y":26},{"g":"Same","c":4,"x":215,"y":10},{"g":"Same","c":4,"x":224,"y":2},{"g":"Same","c":4,"x":232,"y":0},{"g":"Same","c":4,"x":268,"y":0}
 ],
 "europe": [
  {"g":"Different","c":0,"x":-255,"y":0},{"g":"Different","c":0,"x":-160,"y":0},{"g":"Different","c":0,"x":-150,"y":2},{"g":"Different","c":0,"x":-140,"y":8},{"g":"Different","c":0,"x":-132,"y":22},{"g":"Different","c":0,"x":-125,"y":45},{"g":"Different","c":0,"x":-118,"y":75},{"g":"Different","c":0,"x":-112,"y":100},{"g":"Different","c":0,"x":-106,"y":118},{"g":"Different","c":0,"x":-100,"y":121},{"g":"Different","c":0,"x":-94,"y":108},{"g":"Different","c":0,"x":-88,"y":85},{"g":"Different","c":0,"x":-82,"y":58},{"g":"Different","c":0,"x":-75,"y":35},{"g":"Different","c":0,"x":-68,"y":18},{"g":"Different","c":0,"x":-60,"y":7},{"g":"Different","c":0,"x":-50,"y":2},{"g":"Different","c":0,"x":-40,"y":0},{"g":"Different","c":0,"x":268,"y":0},
  {"g":"Same","c":1,"x":-255,"y":0},{"g":"Same","c":1,"x":65,"y":0},{"g":"Same","c":1,"x":75,"y":4},{"g":"Same","c":1,"x":83,"y":18},{"g":"Same","c":1,"x":90,"y":48},{"g":"Same","c":1,"x":96,"y":85},{"g":"Same","c":1,"x":102,"y":112},{"g":"Same","c":1,"x":108,"y":124},{"g":"Same","c":1,"x":114,"y":112},{"g":"Same","c":1,"x":120,"y":85},{"g":"Same","c":1,"x":126,"y":52},{"g":"Same","c":1,"x":132,"y":25},{"g":"Same","c":1,"x":139,"y":9},{"g":"Same","c":1,"x":147,"y":2},{"g":"Same","c":1,"x":156,"y":0},{"g":"Same","c":1,"x":268,"y":0},
  {"g":"Same","c":2,"x":-255,"y":0},{"g":"Same","c":2,"x":62,"y":0},{"g":"Same","c":2,"x":72,"y":5},{"g":"Same","c":2,"x":80,"y":22},{"g":"Same","c":2,"x":87,"y":55},{"g":"Same","c":2,"x":93,"y":92},{"g":"Same","c":2,"x":99,"y":118},{"g":"Same","c":2,"x":105,"y":122},{"g":"Same","c":2,"x":111,"y":105},{"g":"Same","c":2,"x":117,"y":75},{"g":"Same","c":2,"x":123,"y":45},{"g":"Same","c":2,"x":129,"y":20},{"g":"Same","c":2,"x":136,"y":7},{"g":"Same","c":2,"x":144,"y":1},{"g":"Same","c":2,"x":153,"y":0},{"g":"Same","c":2,"x":268,"y":0},
  {"g":"Same","c":3,"x":-255,"y":0},{"g":"Same","c":3,"x":68,"y":0},{"g":"Same","c":3,"x":78,"y":4},{"g":"Same","c":3,"x":86,"y":17},{"g":"Same","c":3,"x":93,"y":45},{"g":"Same","c":3,"x":99,"y":82},{"g":"Same","c":3,"x":105,"y":110},{"g":"Same","c":3,"x":111,"y":125},{"g":"Same","c":3,"x":117,"y":110},{"g":"Same","c":3,"x":123,"y":80},{"g":"Same","c":3,"x":129,"y":48},{"g":"Same","c":3,"x":135,"y":22},{"g":"Same","c":3,"x":142,"y":8},{"g":"Same","c":3,"x":150,"y":1},{"g":"Same","c":3,"x":159,"y":0},{"g":"Same","c":3,"x":268,"y":0}
 ]
},
"spacing": 13,
"center": true,
"vconcat": [
 {
  "title": {"text": "a", "offset": -9, "dx": 5},
  "columns": 2, "bounds": "flush", "spacing": {"row": 5, "column": 1},
  "concat": [
   {"width": 361, "height": 47, "data": {"name": "a1"},
    "mark": {"type": "line", "color": "#000000", "opacity": 0.65, "strokeWidth": 1.1},
    "encoding": {
     "x": {"field": "x", "type": "quantitative", "scale": {"domain": [-73.5, 68.5], "nice": false, "zero": false},
       "axis": {"values": [-60,-40,-20,0,20,40,60], "labels": false, "ticks": false, "title": null, "gridWidth": {"condition": {"test": "datum.value % 40 === 0", "value": 1.2}, "value": 0.5}}},
     "y": {"field": "y", "type": "quantitative", "scale": {"domain": [-9, 189], "nice": false, "zero": false},
       "axis": {"values": [0,25,50,75,100,125,150,175], "labelExpr": "datum.value % 50 === 0 ? datum.label : ''", "labelFontSize": 11.5, "tickSize": 5, "labelPadding": 4, "tickOpacity": {"condition": {"test": "datum.value % 50 === 0", "value": 1}, "value": 0}, "title": null, "gridWidth": {"condition": {"test": "datum.value % 50 === 0", "value": 1.2}, "value": 0.5}}},
     "detail": {"field": "c", "type": "nominal"}}},
   {"width": 10, "height": 47, "view": {"fill": "#00BFC4"}, "data": {"values": []}, "mark": {"type": "point", "opacity": 0}, "encoding": {}},
   {"width": 361, "height": 47, "data": {"name": "a2"},
    "mark": {"type": "line", "color": "#000000", "opacity": 0.65, "strokeWidth": 1.1},
    "encoding": {
     "x": {"field": "x", "type": "quantitative", "scale": {"domain": [-73.5, 68.5], "nice": false, "zero": false},
       "axis": {"values": [-60,-40,-20,0,20,40,60], "labels": false, "ticks": false, "title": null, "gridWidth": {"condition": {"test": "datum.value % 40 === 0", "value": 1.2}, "value": 0.5}}},
     "y": {"field": "y", "type": "quantitative", "scale": {"domain": [-9, 189], "nice": false, "zero": false},
       "axis": {"values": [0,25,50,75,100,125,150,175], "labels": false, "ticks": false, "title": null, "gridWidth": {"condition": {"test": "datum.value % 50 === 0", "value": 1.2}, "value": 0.5}}},
     "detail": {"field": "c", "type": "nominal"}}},
   {"width": 10, "height": 47, "view": {"fill": "#00BFC4"},
    "layer": [
     {"data": {"values": [{"k": 1}]}, "mark": {"type": "rule", "color": "#00BFC4", "strokeWidth": 10, "strokeCap": "square"},
      "encoding": {"x": {"datum": 0.5, "type": "quantitative", "scale": {"domain": [0, 1]}, "axis": null}}},
     {"data": {"values": [{"t": "Same Individual\nWithin 1 Sample"}]}, "mark": {"type": "text", "align": "left", "dx": 11, "fontSize": 12.3, "lineBreak": "\n", "lineHeight": 16, "color": "#1A1A1A"},
      "encoding": {"text": {"field": "t"}}}
    ]},
   {"width": 361, "height": 47, "data": {"name": "a3"},
    "mark": {"type": "line", "color": "#000000", "opacity": 0.65, "strokeWidth": 1.1},
    "encoding": {
     "x": {"field": "x", "type": "quantitative", "scale": {"domain": [-73.5, 68.5], "nice": false, "zero": false},
       "axis": {"values": [-60,-40,-20,0,20,40,60], "labels": false, "ticks": false, "title": null, "gridWidth": {"condition": {"test": "datum.value % 40 === 0", "value": 1.2}, "value": 0.5}}},
     "y": {"field": "y", "type": "quantitative", "scale": {"domain": [-9, 189], "nice": false, "zero": false},
       "axis": {"values": [0,25,50,75,100,125,150,175], "labels": false, "ticks": false, "title": "Count (1,000 bootstrap rep.)", "titleFontSize": 15, "titlePadding": 39, "gridWidth": {"condition": {"test": "datum.value % 50 === 0", "value": 1.2}, "value": 0.5}}},
     "detail": {"field": "c", "type": "nominal"}}},
   {"width": 10, "height": 47, "view": {"fill": "#00BFC4"}, "data": {"values": []}, "mark": {"type": "point", "opacity": 0}, "encoding": {}},
   {"width": 361, "height": 47, "data": {"name": "a4"},
    "mark": {"type": "line", "color": "#000000", "opacity": 0.65, "strokeWidth": 1.1},
    "encoding": {
     "x": {"field": "x", "type": "quantitative", "scale": {"domain": [-73.5, 68.5], "nice": false, "zero": false},
       "axis": {"values": [-60,-40,-20,0,20,40,60], "labels": false, "ticks": false, "title": null, "gridWidth": {"condition": {"test": "datum.value % 40 === 0", "value": 1.2}, "value": 0.5}}},
     "y": {"field": "y", "type": "quantitative", "scale": {"domain": [-9, 189], "nice": false, "zero": false},
       "axis": {"values": [0,25,50,75,100,125,150,175], "labels": false, "ticks": false, "title": null, "gridWidth": {"condition": {"test": "datum.value % 50 === 0", "value": 1.2}, "value": 0.5}}},
     "detail": {"field": "c", "type": "nominal"}}},
   {"width": 10, "height": 47, "view": {"fill": "#00BFC4"}, "data": {"values": [{"t": "Same Individual\nAcross 2 Samples"}]},
    "mark": {"type": "text", "align": "left", "dx": 11, "fontSize": 12.3, "lineBreak": "\n", "lineHeight": 16, "color": "#1A1A1A"},
    "encoding": {"text": {"field": "t"}}},
   {"width": 361, "height": 47, "data": {"name": "a5"},
    "mark": {"type": "line", "color": "#000000", "opacity": 0.65, "strokeWidth": 1.1},
    "encoding": {
     "x": {"field": "x", "type": "quantitative", "scale": {"domain": [-73.5, 68.5], "nice": false, "zero": false},
       "axis": {"values": [-60,-40,-20,0,20,40,60], "labelExpr": "datum.value % 40 === 0 ? datum.label : ''", "labelFontSize": 12.5, "tickSize": 5, "labelPadding": 4, "tickOpacity": {"condition": {"test": "datum.value % 40 === 0", "value": 1}, "value": 0}, "title": "Aggregated log-likelihood ratio", "titleFontSize": 15, "titlePadding": 4, "gridWidth": {"condition": {"test": "datum.value % 40 === 0", "value": 1.2}, "value": 0.5}}},
     "y": {"field": "y", "type": "quantitative", "scale": {"domain": [-9, 189], "nice": false, "zero": false},
       "axis": {"values": [0,25,50,75,100,125,150,175], "labels": false, "ticks": false, "title": null, "gridWidth": {"condition": {"test": "datum.value % 50 === 0", "value": 1.2}, "value": 0.5}}},
     "detail": {"field": "c", "type": "nominal"}}},
   {"width": 10, "height": 47, "view": {"fill": "#F8766D"}, "data": {"values": [{"t": "Different\nIndividuals"}]},
    "mark": {"type": "text", "align": "left", "dx": 11, "fontSize": 12.3, "lineBreak": "\n", "lineHeight": 16, "color": "#1A1A1A"},
    "encoding": {"text": {"field": "t"}}}
  ]
 },
 {
  "spacing": 0,
  "hconcat": [
   {
    "title": {"text": "b", "offset": -6},
    "columns": 2, "bounds": "flush", "spacing": {"row": 5, "column": 1},
    "concat": [
     {"width": 212, "height": 39, "data": {"name": "b1"}, "mark": {"type": "line", "strokeWidth": 1.5},
      "encoding": {
       "x": {"field": "x", "type": "quantitative", "scale": {"domain": [-62.5, 58.5], "nice": false, "zero": false},
         "axis": {"values": [-60,-45,-30,-15,0,15,30,45], "labels": false, "ticks": false, "title": null, "gridWidth": {"condition": {"test": "datum.value % 30 === 0", "value": 1.2}, "value": 0.5}}},
       "y": {"field": "y", "type": "quantitative", "scale": {"domain": [-12.5, 262.5], "nice": false, "zero": false},
         "axis": {"values": [0,50,100,150,200,250], "labelExpr": "datum.value % 100 === 0 ? datum.label : ''", "labelFontSize": 12, "tickSize": 3.5, "labelPadding": 2, "tickOpacity": {"condition": {"test": "datum.value % 100 === 0", "value": 1}, "value": 0}, "title": null, "gridWidth": {"condition": {"test": "datum.value % 100 === 0", "value": 1.2}, "value": 0.5}}},
       "color": {"field": "g", "type": "nominal", "scale": {"domain": ["Different", "Same"], "range": ["#F8766D", "#00BFC4"]}, "legend": null},
       "detail": {"field": "c", "type": "nominal"}}},
     {"width": 16, "height": 39, "view": {"fill": "#CCCCCC"}, "data": {"values": [{"t": "100"}]}, "mark": {"type": "text", "angle": 90, "fontSize": 10.5, "color": "#1A1A1A"}, "encoding": {"text": {"field": "t"}}},
     {"width": 212, "height": 39, "data": {"name": "b2"}, "mark": {"type": "line", "strokeWidth": 1.5},
      "encoding": {
       "x": {"field": "x", "type": "quantitative", "scale": {"domain": [-62.5, 58.5], "nice": false, "zero": false},
         "axis": {"values": [-60,-45,-30,-15,0,15,30,45], "labels": false, "ticks": false, "title": null, "gridWidth": {"condition": {"test": "datum.value % 30 === 0", "value": 1.2}, "value": 0.5}}},
       "y": {"field": "y", "type": "quantitative", "scale": {"domain": [-12.5, 262.5], "nice": false, "zero": false},
         "axis": {"values": [0,50,100,150,200,250], "labels": false, "ticks": false, "title": null, "gridWidth": {"condition": {"test": "datum.value % 100 === 0", "value": 1.2}, "value": 0.5}}},
       "color": {"field": "g", "type": "nominal", "scale": {"domain": ["Different", "Same"], "range": ["#F8766D", "#00BFC4"]}, "legend": null},
       "detail": {"field": "c", "type": "nominal"}}},
     {"width": 16, "height": 39, "view": {"fill": "#CCCCCC"}, "data": {"values": [{"t": "500"}]}, "mark": {"type": "text", "angle": 90, "fontSize": 10.5, "color": "#1A1A1A"}, "encoding": {"text": {"field": "t"}}},
     {"width": 212, "height": 39, "data": {"name": "b3"}, "mark": {"type": "line", "strokeWidth": 1.5},
      "encoding": {
       "x": {"field": "x", "type": "quantitative", "scale": {"domain": [-62.5, 58.5], "nice": false, "zero": false},
         "axis": {"values": [-60,-45,-30,-15,0,15,30,45], "labels": false, "ticks": false, "title": null, "gridWidth": {"condition": {"test": "datum.value % 30 === 0", "value": 1.2}, "value": 0.5}}},
       "y": {"field": "y", "type": "quantitative", "scale": {"domain": [-12.5, 262.5], "nice": false, "zero": false},
         "axis": {"values": [0,50,100,150,200,250], "labels": false, "ticks": false, "title": "Count (1,000 bootstrap rep.)", "titleFontSize": 13, "titlePadding": 30, "gridWidth": {"condition": {"test": "datum.value % 100 === 0", "value": 1.2}, "value": 0.5}}},
       "color": {"field": "g", "type": "nominal", "scale": {"domain": ["Different", "Same"], "range": ["#F8766D", "#00BFC4"]}, "legend": null},
       "detail": {"field": "c", "type": "nominal"}}},
     {"width": 16, "height": 39, "view": {"fill": "#CCCCCC"}, "data": {"values": [{"t": "1,000"}]}, "mark": {"type": "text", "angle": 90, "fontSize": 10.5, "color": "#1A1A1A"},
      "encoding": {"text": {"field": "t"}, "y": {"field": "t", "type": "nominal", "axis": {"orient": "right", "labels": false, "ticks": false, "grid": false, "title": "Time since split (gen.)", "titleFontSize": 12.5, "titlePadding": 4}}}},
     {"width": 212, "height": 39, "data": {"name": "b4"}, "mark": {"type": "line", "strokeWidth": 1.5},
      "encoding": {
       "x": {"field": "x", "type": "quantitative", "scale": {"domain": [-62.5, 58.5], "nice": false, "zero": false},
         "axis": {"values": [-60,-45,-30,-15,0,15,30,45], "labels": false, "ticks": false, "title": null, "gridWidth": {"condition": {"test": "datum.value % 30 === 0", "value": 1.2}, "value": 0.5}}},
       "y": {"field": "y", "type": "quantitative", "scale": {"domain": [-12.5, 262.5], "nice": false, "zero": false},
         "axis": {"values": [0,50,100,150,200,250], "labels": false, "ticks": false, "title": null, "gridWidth": {"condition": {"test": "datum.value % 100 === 0", "value": 1.2}, "value": 0.5}}},
       "color": {"field": "g", "type": "nominal", "scale": {"domain": ["Different", "Same"], "range": ["#F8766D", "#00BFC4"]}, "legend": null},
       "detail": {"field": "c", "type": "nominal"}}},
     {"width": 16, "height": 39, "view": {"fill": "#CCCCCC"}, "data": {"values": [{"t": "2,000"}]}, "mark": {"type": "text", "angle": 90, "fontSize": 10.5, "color": "#1A1A1A"}, "encoding": {"text": {"field": "t"}}},
     {"width": 212, "height": 39, "data": {"name": "b5"}, "mark": {"type": "line", "strokeWidth": 1.5},
      "encoding": {
       "x": {"field": "x", "type": "quantitative", "scale": {"domain": [-62.5, 58.5], "nice": false, "zero": false},
         "axis": {"values": [-60,-45,-30,-15,0,15,30,45], "labelExpr": "datum.value % 30 === 0 ? datum.label : ''", "labelFontSize": 11.5, "tickSize": 3, "labelPadding": 0, "tickOpacity": {"condition": {"test": "datum.value % 30 === 0", "value": 1}, "value": 0}, "title": "Aggregated log-likelihood ratio", "titleFontSize": 13, "titlePadding": 4, "gridWidth": {"condition": {"test": "datum.value % 30 === 0", "value": 1.2}, "value": 0.5}}},
       "y": {"field": "y", "type": "quantitative", "scale": {"domain": [-12.5, 262.5], "nice": false, "zero": false},
         "axis": {"values": [0,50,100,150,200,250], "labels": false, "ticks": false, "title": null, "gridWidth": {"condition": {"test": "datum.value % 100 === 0", "value": 1.2}, "value": 0.5}}},
       "color": {"field": "g", "type": "nominal", "scale": {"domain": ["Different", "Same"], "range": ["#F8766D", "#00BFC4"]}, "legend": null},
       "detail": {"field": "c", "type": "nominal"}}},
     {"width": 16, "height": 39, "view": {"fill": "#CCCCCC"}, "data": {"values": [{"t": "4,000"}]}, "mark": {"type": "text", "angle": 90, "fontSize": 10.5, "color": "#1A1A1A"}, "encoding": {"text": {"field": "t"}}}
    ]
   },
   {
    "width": 108, "height": 215, "view": {"fill": "#FFFFFF"},
    "layer": [
     {"data": {"values": [{"x": 27, "x2": 51, "y": 46, "y2": 79.5}]},
      "mark": {"type": "rect", "fill": {"gradient": "linear", "x1": 0, "y1": 0, "x2": 0, "y2": 1, "stops": [{"offset": 0, "color": "#F0F0F0"}, {"offset": 0.6, "color": "#000000"}, {"offset": 1, "color": "#000000"}]}},
      "encoding": {
       "x": {"field": "x", "type": "quantitative", "scale": {"domain": [0, 108], "nice": false, "zero": false}, "axis": null},
       "x2": {"field": "x2"},
       "y": {"field": "y", "type": "quantitative", "scale": {"domain": [0, 215], "nice": false, "zero": false, "reverse": true}, "axis": null},
       "y2": {"field": "y2"}}},
     {"data": {"values": [{"x": 10.7, "x2": 34, "y": 78.3, "y2": 157.3}, {"x": 47.3, "x2": 67.3, "y": 78.3, "y2": 157.3}, {"x": 10.7, "x2": 67.3, "y": 78.3, "y2": 84}]},
      "mark": {"type": "rect", "color": "#000000"},
      "encoding": {"x": {"field": "x", "type": "quantitative"}, "x2": {"field": "x2"}, "y": {"field": "y", "type": "quantitative"}, "y2": {"field": "y2"}}},
     {"data": {"values": [{"x": 77.3, "y": 71.7, "y2": 119}]},
      "mark": {"type": "rule", "color": "#000000", "strokeWidth": 1.6},
      "encoding": {"x": {"field": "x", "type": "quantitative"}, "y": {"field": "y", "type": "quantitative"}, "y2": {"field": "y2"}}},
     {"data": {"values": [{"x": 77.3, "y": 122}]},
      "mark": {"type": "point", "shape": "triangle-down", "filled": true, "color": "#000000", "size": 70, "opacity": 1},
      "encoding": {"x": {"field": "x", "type": "quantitative"}, "y": {"field": "y", "type": "quantitative"}}},
     {"data": {"values": [{"x": 85.5, "y": 96.5, "t": "Time"}]},
      "mark": {"type": "text", "angle": 90, "fontSize": 10, "color": "#000000"},
      "encoding": {"x": {"field": "x", "type": "quantitative"}, "y": {"field": "y", "type": "quantitative"}, "text": {"field": "t"}}},
     {"data": {"values": [{"x": 21, "y": 165, "t": "Panel"}, {"x": 61, "y": 165, "t": "Samples"}]},
      "mark": {"type": "text", "fontSize": 10, "color": "#000000"},
      "encoding": {"x": {"field": "x", "type": "quantitative"}, "y": {"field": "y", "type": "quantitative"}, "text": {"field": "t"}}}
    ]
   },
   {
    "title": {"text": "c", "offset": -1, "dx": 5},
    "columns": 2, "bounds": "flush", "spacing": {"row": 5, "column": 1},
    "resolve": {"legend": {"color": "independent"}},
    "concat": [
     {"width": 212, "height": 55, "data": {"name": "africa"}, "mark": {"type": "line", "strokeWidth": 1.5},
      "encoding": {
       "x": {"field": "x", "type": "quantitative", "scale": {"domain": [-281, 294], "nice": false, "zero": false},
         "axis": {"values": [-250,-200,-150,-100,-50,0,50,100,150,200,250], "labels": false, "ticks": false, "title": null, "gridWidth": {"condition": {"test": "datum.value % 100 === 0", "value": 1.2}, "value": 0.5}}},
       "y": {"field": "y", "type": "quantitative", "scale": {"domain": [-14, 300], "nice": false, "zero": false},
         "axis": {"values": [0,50,100,150,200,250], "labelExpr": "datum.value % 100 === 0 ? datum.label : ''", "labelFontSize": 10.5, "tickSize": 3.5, "labelPadding": 2, "tickOpacity": {"condition": {"test": "datum.value % 100 === 0", "value": 1}, "value": 0}, "title": null, "gridWidth": {"condition": {"test": "datum.value % 100 === 0", "value": 1.2}, "value": 0.5}}},
       "color": {"field": "g", "type": "nominal", "scale": {"domain": ["Different", "Same"], "range": ["#F8766D", "#00BFC4"]}, "legend": null},
       "detail": {"field": "c", "type": "nominal"}}},
     {"width": 16, "height": 55, "view": {"fill": "#CCCCCC"}, "data": {"values": [{"t": "Africa"}]}, "mark": {"type": "text", "angle": 90, "fontSize": 10.5, "color": "#1A1A1A"}, "encoding": {"text": {"field": "t"}}},
     {"width": 212, "height": 55, "data": {"name": "asia"}, "mark": {"type": "line", "strokeWidth": 1.5},
      "encoding": {
       "x": {"field": "x", "type": "quantitative", "scale": {"domain": [-281, 294], "nice": false, "zero": false},
         "axis": {"values": [-250,-200,-150,-100,-50,0,50,100,150,200,250], "labels": false, "ticks": false, "title": null, "gridWidth": {"condition": {"test": "datum.value % 100 === 0", "value": 1.2}, "value": 0.5}}},
       "y": {"field": "y", "type": "quantitative", "scale": {"domain": [-14, 300], "nice": false, "zero": false},
         "axis": {"values": [0,50,100,150,200,250], "labels": false, "ticks": false, "title": "Count (1,000 bootstrap rep.)", "titleFontSize": 13, "titlePadding": 32, "gridWidth": {"condition": {"test": "datum.value % 100 === 0", "value": 1.2}, "value": 0.5}}},
       "color": {"field": "g", "type": "nominal", "scale": {"domain": ["Different", "Same"], "range": ["#F8766D", "#00BFC4"]}, "legend": null},
       "detail": {"field": "c", "type": "nominal"}}},
     {"width": 16, "height": 55, "view": {"fill": "#CCCCCC"}, "data": {"values": [{"t": "Asia"}]}, "mark": {"type": "text", "angle": 90, "fontSize": 10.5, "color": "#1A1A1A"},
      "encoding": {"text": {"field": "t"}, "y": {"field": "t", "type": "nominal", "axis": {"orient": "right", "labels": false, "ticks": false, "grid": false, "title": "Simulated Population", "titleFontSize": 12.5, "titlePadding": 7}}}},
     {"width": 212, "height": 55, "data": {"name": "europe"}, "mark": {"type": "line", "strokeWidth": 1.5},
      "encoding": {
       "x": {"field": "x", "type": "quantitative", "scale": {"domain": [-281, 294], "nice": false, "zero": false},
         "axis": {"values": [-250,-200,-150,-100,-50,0,50,100,150,200,250], "labelExpr": "datum.value % 100 === 0 ? datum.label : ''", "labelFontSize": 10.5, "tickSize": 3.5, "labelPadding": 5, "tickOpacity": {"condition": {"test": "datum.value % 100 === 0", "value": 1}, "value": 0}, "title": "Aggregated log-likelihood ratio", "titleFontSize": 13, "titlePadding": 1, "gridWidth": {"condition": {"test": "datum.value % 100 === 0", "value": 1.2}, "value": 0.5}}},
       "y": {"field": "y", "type": "quantitative", "scale": {"domain": [-14, 300], "nice": false, "zero": false},
         "axis": {"values": [0,50,100,150,200,250], "labels": false, "ticks": false, "title": null, "gridWidth": {"condition": {"test": "datum.value % 100 === 0", "value": 1.2}, "value": 0.5}}},
       "color": {"field": "g", "type": "nominal", "scale": {"domain": ["Different", "Same"], "range": ["#F8766D", "#00BFC4"]},
         "legend": {"orient": "bottom", "direction": "horizontal", "title": "Individuals", "titleOrient": "left", "titleFontSize": 15.8, "titleFontWeight": "bold", "titleColor": "#000000", "titlePadding": 21, "labelFontSize": 15.3, "labelColor": "#000000", "labelOffset": 5, "symbolType": "stroke", "symbolStrokeWidth": 2, "symbolSize": 576, "columnPadding": 15, "offset": 17}},
       "detail": {"field": "c", "type": "nominal"}}},
     {"width": 16, "height": 55, "view": {"fill": "#CCCCCC"}, "data": {"values": [{"t": "Europe"}]}, "mark": {"type": "text", "angle": 90, "fontSize": 10.5, "color": "#1A1A1A"}, "encoding": {"text": {"field": "t"}}}
    ]
   },
   {
    "width": 95, "height": 175, "view": {"fill": "#FFFFFF"},
    "layer": [
     {"data": {"values": [{"x": 50, "x2": 60, "y": 51, "y2": 70}]},
      "mark": {"type": "rect", "fill": {"gradient": "linear", "x1": 0, "y1": 0, "x2": 0, "y2": 1, "stops": [{"offset": 0, "color": "#F0F0F0"}, {"offset": 0.7, "color": "#000000"}, {"offset": 1, "color": "#000000"}]}},
      "encoding": {
       "x": {"field": "x", "type": "quantitative", "scale": {"domain": [0, 95], "nice": false, "zero": false}, "axis": null},
       "x2": {"field": "x2"},
       "y": {"field": "y", "type": "quantitative", "scale": {"domain": [0, 175], "nice": false, "zero": false, "reverse": true}, "axis": null},
       "y2": {"field": "y2"}}},
     {"data": {"values": [{"x": 7.7, "y": 111.7, "y2": 111.7}, {"x": 25.7, "y": 96.7, "y2": 111.7}, {"x": 47, "y": 79, "y2": 95}]},
      "mark": {"type": "area", "color": "#000000", "opacity": 1},
      "encoding": {"x": {"field": "x", "type": "quantitative"}, "y": {"field": "y", "type": "quantitative"}, "y2": {"field": "y2"}}},
     {"data": {"values": [{"x": 45, "x2": 60, "y": 69, "y2": 144}, {"x": 7.7, "x2": 30, "y": 111.2, "y2": 115}, {"x": 7.7, "x2": 15, "y": 111.2, "y2": 144}, {"x": 22.7, "x2": 30, "y": 111.2, "y2": 144}]},
      "mark": {"type": "rect", "color": "#000000"},
      "encoding": {"x": {"field": "x", "type": "quantitative"}, "x2": {"field": "x2"}, "y": {"field": "y", "type": "quantitative"}, "y2": {"field": "y2"}}},
     {"data": {"values": [{"x": 18.9, "y": 128, "t": "↔"}, {"x": 18.9, "y": 138, "t": "↔"}]},
      "mark": {"type": "text", "fontSize": 7, "font": "DejaVu Sans", "fontWeight": "bold", "color": "#000000"},
      "encoding": {"x": {"field": "x", "type": "quantitative"}, "y": {"field": "y", "type": "quantitative"}, "text": {"field": "t"}}},
     {"data": {"values": [{"x": 37.5, "y": 107, "t": "↔"}, {"x": 37.5, "y": 118, "t": "↔"}, {"x": 37.5, "y": 128, "t": "↔"}, {"x": 37.5, "y": 138, "t": "↔"}]},
      "mark": {"type": "text", "fontSize": 9, "font": "DejaVu Sans", "fontWeight": "bold", "color": "#000000"},
      "encoding": {"x": {"field": "x", "type": "quantitative"}, "y": {"field": "y", "type": "quantitative"}, "text": {"field": "t"}}},
     {"data": {"values": [{"x": 72.3, "y": 70.7, "y2": 121}]},
      "mark": {"type": "rule", "color": "#000000", "strokeWidth": 1.6},
      "encoding": {"x": {"field": "x", "type": "quantitative"}, "y": {"field": "y", "type": "quantitative"}, "y2": {"field": "y2"}}},
     {"data": {"values": [{"x": 72.3, "y": 124.5}]},
      "mark": {"type": "point", "shape": "triangle-down", "filled": true, "color": "#000000", "size": 70, "opacity": 1},
      "encoding": {"x": {"field": "x", "type": "quantitative"}, "y": {"field": "y", "type": "quantitative"}}},
     {"data": {"values": [{"x": 79, "y": 95, "t": "Time"}]},
      "mark": {"type": "text", "angle": 90, "fontSize": 10, "color": "#000000"},
      "encoding": {"x": {"field": "x", "type": "quantitative"}, "y": {"field": "y", "type": "quantitative"}, "text": {"field": "t"}}},
     {"data": {"values": [{"x": 8.5, "y": 149.5, "t": "Asia"}, {"x": 25.5, "y": 149.5, "t": "Eur."}, {"x": 52, "y": 149.5, "t": "Africa"}]},
      "mark": {"type": "text", "fontSize": 8.5, "color": "#000000"},
      "encoding": {"x": {"field": "x", "type": "quantitative"}, "y": {"field": "y", "type": "quantitative"}, "text": {"field": "t"}}}
    ]
   }
  ]
 }
]
}
